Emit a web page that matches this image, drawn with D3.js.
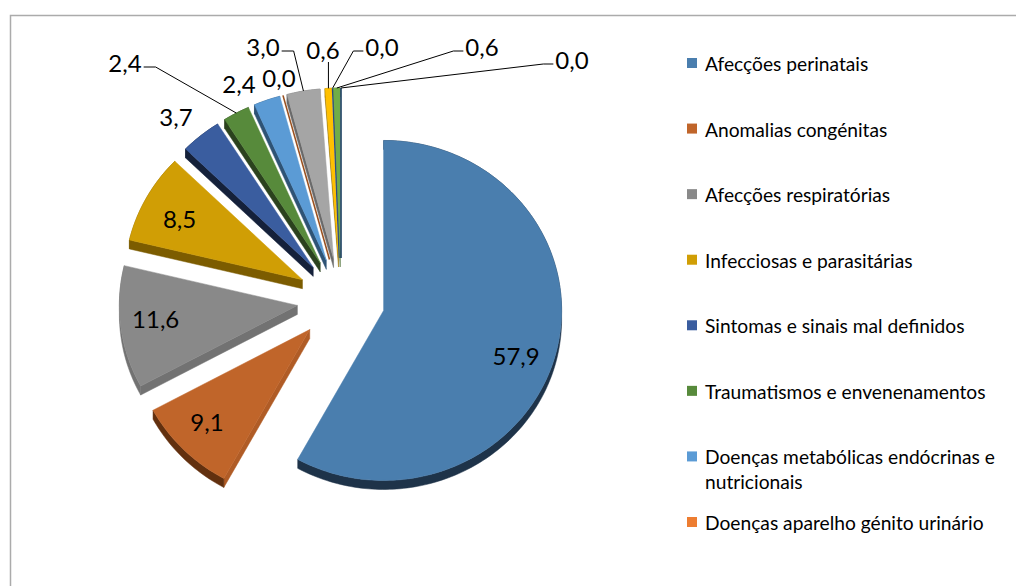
<!DOCTYPE html>
<html><head><meta charset="utf-8">
<script src="https://cdn.jsdelivr.net/npm/d3@7"></script>
<style>html,body{margin:0;padding:0;background:#fff;}svg{display:block;}</style>
</head><body>
<svg id="chart" width="1016" height="586"></svg>
<script>
// ---- data ----
const categories = [
  "Afecções perinatais",
  "Anomalias congénitas",
  "Afecções respiratórias",
  "Infecciosas e parasitárias",
  "Sintomas e sinais mal definidos",
  "Traumatismos e envenenamentos",
  "Doenças metabólicas endócrinas e nutricionais",
  "Doenças aparelho génito urinário",
  "Doenças do sistema nervoso",
  "Doenças do aparelho circulatório",
  "Doenças do aparelho digestivo",
  "Neoplasias",
  "Doenças do sangue"
];
const values = [57.9, 9.1, 11.6, 8.5, 3.7, 2.4, 2.4, 0.0, 3.0, 0.6, 0.0, 0.6, 0.0];
const legendCount = 8; // legend shows the first 8 entries

// ---- styles ----
const topColors  = ["#4a7eae","#c0652a","#898989","#d09e05","#3a5d9f","#578a3b","#5b9bd5","#ed7d31","#a5a5a5","#ffc000","#4472c4","#70ad47","#255e91"];
const sideColors = ["#1e3349","#62300f","#727272","#7c5c00","#15213a","#2b421e","#2f5375","#8a4419","#6a6a6a","#9b7400","#253f6e","#3f6428","#153650"];

// label layout: inside labels by radial fraction; outside labels with position + leader side
const labelLayout = [
  {type:"in", f:0.79, da:0.09},
  {type:"in", f:0.79, da:0.03},
  {type:"in", f:0.80, da:0.03},
  {type:"in", f:0.78, da:-0.02},
  {type:"free", x:176, y:116},
  {type:"lead", x:125, y:62, side:"right"},
  {type:"free", x:239, y:83},
  {type:"free", x:279, y:77},
  {type:"lead", x:263, y:46, side:"right"},
  {type:"lead", x:323, y:49, side:"below"},
  {type:"lead", x:382, y:46, side:"left"},
  {type:"lead", x:482, y:46, side:"left"},
  {type:"lead", x:572, y:59, side:"left"}
];

const data = categories.map((c,i)=>({name:c, value:values[i], color:topColors[i], side:sideColors[i], layout:labelLayout[i]}));

const svg = d3.select("#chart");

// chart frame
svg.append("rect").attr("x",10.5).attr("y",15.5).attr("width",1010).attr("height",600)
  .attr("fill","#fff").attr("stroke","#ababab").attr("stroke-width",1.5);

const cx = 341, cy = 300, rx = 178, ry = 170, explode = 44, depth = 9;
const k = ry/rx;

const pie = d3.pie().sort(null).value(d=>d.value).startAngle(0).endAngle(2*Math.PI);
const arcs = pie(data);

arcs.forEach(a=>{
  const m = (a.startAngle + a.endAngle)/2;
  a.mid = m;
  a.apex = [cx + explode*Math.sin(m), cy - explode*Math.cos(m)*k];
});
const outer = (a, ang, f=1) => [a.apex[0] + rx*f*Math.sin(ang), a.apex[1] - ry*f*Math.cos(ang)];
const arcPts = (a, dy=0) => {
  const n = Math.max(2, Math.ceil((a.endAngle - a.startAngle)/0.02));
  return d3.range(n+1).map(i=>{
    const ang = a.startAngle + (a.endAngle - a.startAngle)*i/n;
    const p = outer(a, ang); return [p[0], p[1]+dy];
  });
};
const line = d3.line();
const closed = d3.line().curve(d3.curveLinearClosed);

const gSide = svg.append("g");
const gTop = svg.append("g");

arcs.forEach((a,i)=>{
  const d = a.data;
  if (a.value === 0) {
    const o = outer(a, a.startAngle);
    gTop.append("path").attr("d", line([a.apex, o]))
      .attr("stroke", d3.color(d.color).darker(1.2)).attr("stroke-width",1.6).attr("fill","none");
    return;
  }
  [[a.startAngle, -1],[a.endAngle, 1]].forEach(([ang, s])=>{
    const nx = s*Math.cos(ang), ny = s*Math.sin(ang);
    if (ny <= 0.02) return;
    const o = outer(a, ang);
    const col = nx > 0.5 ? d3.color(d.color).darker(0.25) : d.side;
    gSide.append("path").attr("d", closed([a.apex, o, [o[0],o[1]+depth], [a.apex[0],a.apex[1]+depth]]))
      .attr("fill", col).attr("stroke", col).attr("stroke-width",0.5);
  });
  const top = arcPts(a), bot = arcPts(a, depth).reverse();
  gSide.append("path").attr("d", closed(top.concat(bot)))
    .attr("fill", d.side).attr("stroke", d.side).attr("stroke-width",0.5);
  gTop.append("path").attr("d", closed([a.apex].concat(top)))
    .attr("fill", d.color).attr("stroke", d.color).attr("stroke-width",0.5);
});

// labels
const fmt = v => d3.format(".1f")(v).replace(".", ",");
const gLab = svg.append("g").attr("font-family","Lato, 'Open Sans', sans-serif").attr("font-size",24).attr("fill","#000");
arcs.forEach(a=>{
  const L = a.data.layout;
  let x, y;
  if (L.type === "in") {
    [x, y] = outer(a, a.mid + L.da, L.f);
  } else { x = L.x; y = L.y; }
  const t = gLab.append("text").attr("x",x).attr("y",y).attr("text-anchor","middle")
    .attr("dominant-baseline","central").text(fmt(a.data.value));
  if (L.type === "lead") {
    const w = t.node().getComputedTextLength();
    const anchor = outer(a, a.mid);
    let pts;
    if (L.side === "right") pts = [[x + w/2 + 2, y+5],[x + w/2 + 14, y+5], anchor];
    else if (L.side === "left") pts = [[x - w/2 - 2, y+5],[x - w/2 - 12, y+5], anchor];
    else pts = [[anchor[0], y+13], anchor];
    gLab.append("path").attr("d", line(pts)).attr("fill","none").attr("stroke","#000").attr("stroke-width",1);
  }
});

// legend
const legendItems = data.slice(0, legendCount);
const ly = d3.scaleLinear().domain([0, legendCount-1]).range([63, 522]);
const gLeg = svg.append("g").attr("font-family","Lato, 'Open Sans', sans-serif").attr("font-size",19.2).attr("fill","#000");
legendItems.forEach((d,i)=>{
  const y = ly(i);
  gLeg.append("rect").attr("x",687).attr("y",y-5).attr("width",10).attr("height",10).attr("fill",d.color);
  const t = gLeg.append("text").attr("x",705).attr("y",y).attr("dominant-baseline","central");
  const words = d.name.split(" ");
  let lineStr = "";
  let ts = t.append("tspan").attr("x",705).attr("dy",0);
  words.forEach(wd=>{
    const test = lineStr ? lineStr + " " + wd : wd;
    ts.text(test);
    if (ts.node().getComputedTextLength() > 300 && lineStr) {
      ts.text(lineStr);
      lineStr = wd;
      ts = t.append("tspan").attr("x",705).attr("dy",25).text(wd);
    } else lineStr = test;
  });
});
</script>
</body></html>
